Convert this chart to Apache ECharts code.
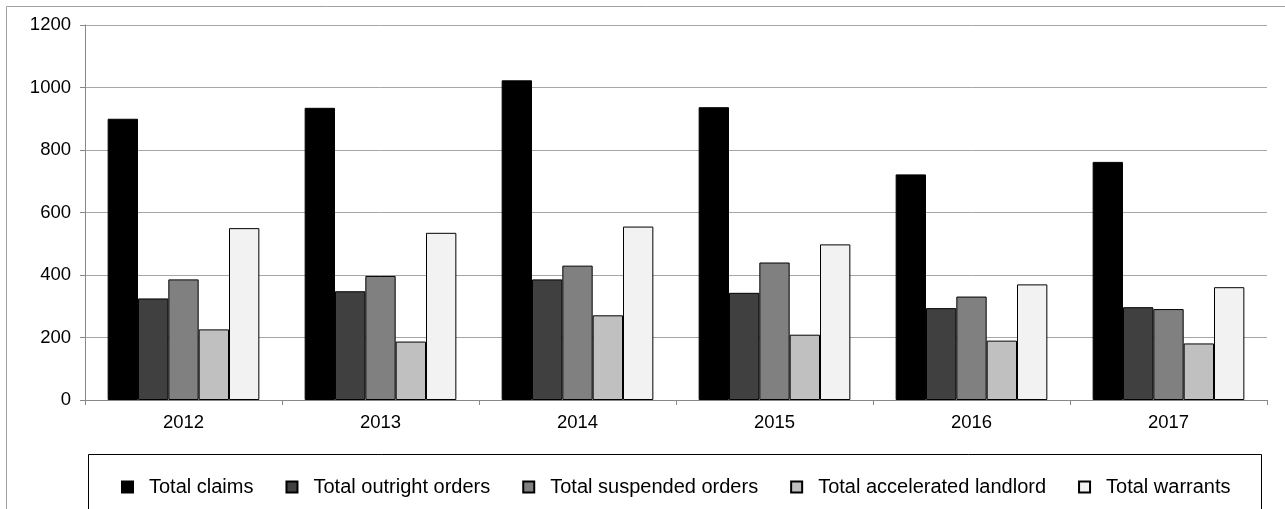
<!DOCTYPE html>
<html>
<head>
<meta charset="utf-8">
<script src="https://cdn.jsdelivr.net/npm/echarts@6/dist/echarts.min.js"></script>
<style>
html,body{margin:0;padding:0;background:#fff;}
#chart{width:1285px;height:509px;}
</style>
</head>
<body>
<div id="chart"></div>
<script>
const years = ['2012','2013','2014','2015','2016','2017'];
const totalClaims = [900, 935, 1023, 937, 722, 762];
const totalOutright = [325, 348, 386, 343, 294, 297];
const totalSuspended = [386, 397, 430, 440, 331, 291];
const totalAccelerated = [226, 187, 271, 209, 190, 181];
const totalWarrants = [550, 535, 555, 498, 370, 361];
const yTicks = [0, 200, 400, 600, 800, 1000, 1200];

const names = ['Total claims','Total outright orders','Total suspended orders','Total accelerated landlord','Total warrants'];
const colors = ['#000000','#404040','#808080','#c0c0c0','#f2f2f2'];
const datas = [totalClaims,totalOutright,totalSuspended,totalAccelerated,totalWarrants];

const chart = echarts.init(document.getElementById('chart'), null, {renderer:'canvas'});
const font = "'Liberation Sans', Arial, sans-serif";
chart.setOption({
  animation:false,
  backgroundColor:'#ffffff',
  graphic:[
    {type:'rect', shape:{x:6.5,y:6.5,width:1300,height:600}, style:{fill:'none',stroke:'#a0a0a0',lineWidth:1}, silent:true, z:-10},
    {type:'rect', shape:{x:88.5,y:454.5,width:1173,height:100}, style:{fill:'none',stroke:'#000000',lineWidth:1}, silent:true, z:-5}
  ],
  grid:{left:85, right:18, top:25, bottom:109, containLabel:false},
  legend:{
    data:names,
    left:116, top:472,
    itemWidth:11, itemHeight:11, itemGap:32,
    icon:'rect',
    textStyle:{fontFamily:font, fontSize:20, color:'#000', padding:[0,0,0,11]},
    selectedMode:false
  },
  xAxis:{
    type:'category', data:years,
    axisLine:{show:true, lineStyle:{color:'#888888', width:1}},
    axisTick:{show:true, length:5, lineStyle:{color:'#888888'}},
    axisLabel:{fontFamily:font, fontSize:18.5, color:'#000', margin:13},
    splitLine:{show:false}
  },
  yAxis:{
    type:'value', min:yTicks[0], max:yTicks[yTicks.length-1], interval:200,
    axisLine:{show:true, lineStyle:{color:'#888888', width:1}},
    axisTick:{show:true, length:5, lineStyle:{color:'#888888'}},
    axisLabel:{fontFamily:font, fontSize:18.5, color:'#000', margin:14, formatter:v=>String(v)},
    splitLine:{show:true, lineStyle:{color:'#a6a6a6', width:1}}
  },
  series: names.map((n,i)=>({
    name:n, type:'bar', data:datas[i],
    barGap:'0%', barCategoryGap:'23%',
    itemStyle:{color:colors[i], borderColor:'#000', borderWidth:1},
    emphasis:{disabled:true}
  }))
});
</script>
</body>
</html>
